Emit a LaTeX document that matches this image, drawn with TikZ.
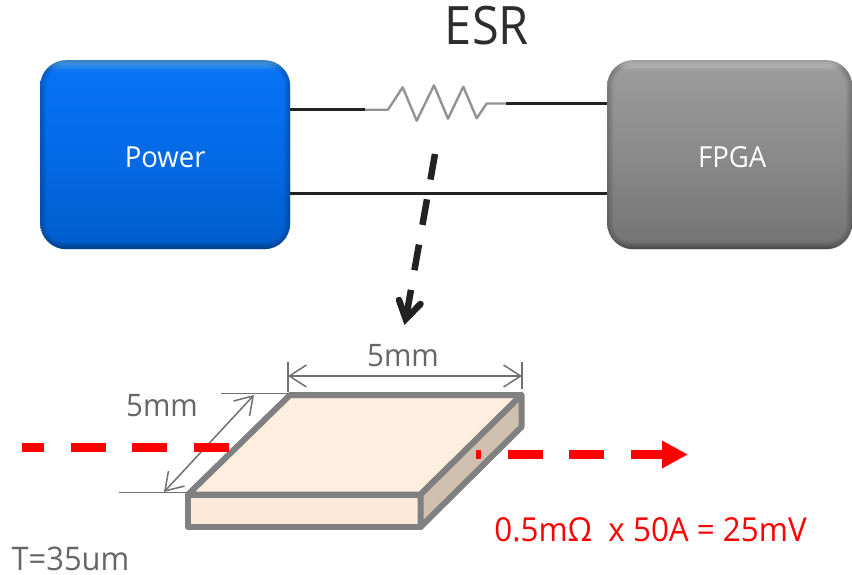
\documentclass[tikz,border=0pt]{standalone}
\usepackage{fontspec}
\setmainfont[FakeStretch=0.95]{Open Sans}
\newfontfamily\titlefont[FakeStretch=0.92]{Open Sans}
\usetikzlibrary{arrows.meta,calc}
\definecolor{pa}{HTML}{0A4F9E}\definecolor{pb}{HTML}{0058BE}\definecolor{pc}{HTML}{005FD0}\definecolor{pd}{HTML}{046AE6}
\definecolor{pe}{HTML}{0872F5}\definecolor{pf}{HTML}{0C76F5}\definecolor{pg}{HTML}{2A8CF2}\definecolor{ph}{HTML}{45A5F6}
\definecolor{fa}{HTML}{555555}\definecolor{fb}{HTML}{6A6A6A}\definecolor{fc}{HTML}{767676}\definecolor{fd}{HTML}{8A8A8A}
\definecolor{fe}{HTML}{9A9A9A}\definecolor{ff}{HTML}{9C9C9C}\definecolor{fg}{HTML}{B0B0B0}\definecolor{fh}{HTML}{C6C6C6}
\pgfdeclareverticalshading{powershade}{100bp}{
  color(0bp)=(pa); color(25bp)=(pa); color(26bp)=(pb); color(28bp)=(pc); color(50bp)=(pd);
  color(71.5bp)=(pe); color(72.5bp)=(pf); color(73.4bp)=(pg); color(74.4bp)=(ph); color(100bp)=(ph)}
\pgfdeclareverticalshading{fpgashade}{100bp}{
  color(0bp)=(fa); color(25bp)=(fa); color(26bp)=(fb); color(28bp)=(fc); color(50bp)=(fd);
  color(71.5bp)=(fe); color(72.5bp)=(ff); color(73.4bp)=(fg); color(74.4bp)=(fh); color(100bp)=(fh)}
\definecolor{wirec}{HTML}{222222}
\definecolor{dimc}{HTML}{707070}
\definecolor{platec}{HTML}{808080}
\definecolor{topc}{HTML}{FDEEDF}
\definecolor{frontc}{HTML}{FDE9D9}
\definecolor{sidec}{HTML}{CFBFAE}
\definecolor{labelc}{HTML}{666666}
\tikzset{
  x=1pt,y=-1pt,
  boxnode/.style={rounded corners=26pt,minimum width=250pt,minimum height=189pt,inner sep=0pt,text=white,font=\fontsize{29}{32}\selectfont,anchor=north west},
  bevel/.style={black,opacity=.07},
  wire/.style={draw=wirec,line width=3pt},
  reswire/.style={draw=gray!85,line width=2.4pt,line join=round},
  dimline/.style={draw=dimc,line width=1.5pt},
  dimarrow/.style={draw=dimc,line width=1.5pt,{Straight Barb[length=17pt,width=22pt]}-{Straight Barb[length=17pt,width=22pt]}},
  plate/.style={draw=platec,line width=6pt,line join=round},
  reddash/.style={draw=red,line width=9pt},
  lbl/.style={font=\fontsize{31}{34}\selectfont,text=labelc,inner sep=0pt},
}
\begin{document}
\begin{tikzpicture}
\useasboundingbox (0,0) rectangle (852,574);
\node[boxnode,shading=powershade] (power) at (40,60) {\raisebox{-12.5pt}[0pt][0pt]{Power}};
\node[boxnode,shading=fpgashade,minimum width=245pt] (fpga) at (607,60) {\hspace*{5pt}\raisebox{-12.5pt}[0pt][0pt]{FPGA}};
\foreach \b in {power,fpga}{
  \begin{scope}
    \clip[rounded corners=26pt] (\b.north west) rectangle (\b.south east);
    \draw[bevel,line width=4pt,rounded corners=26pt] (\b.north west) rectangle (\b.south east);
    \draw[bevel,line width=8pt,rounded corners=26pt] (\b.north west) rectangle (\b.south east);
    \draw[bevel,line width=12pt,rounded corners=26pt] (\b.north west) rectangle (\b.south east);
  \end{scope}
}
\coordinate (ra) at (365,109.7);
\coordinate (rb) at (506,103.5);
\coordinate (la) at (400,193.4);
\draw[wire] (ra -| power.east) -- (ra);
\draw[wire] (rb) -- (rb -| fpga.west);
\draw[wire] (la -| power.east) -- (la -| fpga.west);
\draw[reswire] (ra) -- (388,109.7) -- (402.7,87.3) -- (416.7,120.7) -- (434,85.3) -- (448,118.7) -- (463.3,86.7) -- (476.7,118.3) -- (486.7,103.5) -- (rb);
\node[inner sep=0pt,font=\titlefont\fontsize{53}{56}\selectfont,text=wirec!95] (esr) at (487,26) {ESR};
% dashed arrow
\coordinate (da) at (435,154);
\coordinate (ht) at (405.8,319);
\coordinate (hl) at (399,300);
\coordinate (hr) at (420.5,304);
\draw[draw=wirec,line width=6.5pt,dash pattern=on 26pt off 20pt] (da) -- (ht);
\draw[draw=wirec,line width=6.5pt,line cap=round,line join=miter,miter limit=10] (hl) -- (ht) -- (hr);
% plate
\coordinate (tl) at (290,395);
\coordinate (tr) at (521.5,395);
\coordinate (fl) at (188,494.5);
\coordinate (fr) at (420.5,494.5);
\coordinate (bl) at (188,527);
\coordinate (br) at (420.5,527);
\coordinate (sr) at (521.5,427);
\draw[plate,fill=topc] (tl) -- (tr) -- (fr) -- (fl) -- cycle;
\draw[plate,fill=frontc] (fl) -- (fr) -- (br) -- (bl) -- cycle;
\draw[plate,fill=sidec] (fr) -- (tr) -- (sr) -- (br) -- cycle;
% dimensions
\coordinate (h1a) at (288,362);
\coordinate (h1b) at (288,392);
\coordinate (h2a) at (522,362);
\coordinate (h2b) at (522,389);
\draw[dimline] (h1a) -- (h1b);
\draw[dimline] (h2a) -- (h2b);
\coordinate (hc1) at (288,376);
\coordinate (hc2) at (522,376);
\draw[dimarrow] (hc1) -- (hc2);
\coordinate (e1a) at (220.7,393.3);
\coordinate (e1b) at (288,393.3);
\coordinate (e2a) at (119,492.7);
\coordinate (e2b) at (186.7,492.7);
\draw[dimline] (e1a) -- (e1b);
\draw[dimline] (e2a) -- (e2b);
\coordinate (d1) at (254,395);
\coordinate (d2) at (164,492);
\draw[dimarrow] (d2) -- (d1);
\node[lbl] (w5) at (403,356) {5mm};
\node[lbl] (l5) at (162,406) {5mm};
\node[lbl,font=\fontsize{32.5}{34}\selectfont] (t35) at (70.5,559) {T=35um};
\node[inner sep=0pt,font=\fontsize{33}{35}\selectfont,text=red] (eq) at (650.5,529.5) {0.5mΩ~~x 50A = 25mV};
% red arrows
\coordinate (r1) at (22,447.5);
\coordinate (r2) at (229,447.5);
\coordinate (r3) at (476,454.5);
\coordinate (r4) at (688,454.5);
\draw[reddash,dash pattern=on 35pt off 26.5pt,dash phase=13pt] (r1) -- (r2);
\draw[reddash,dash pattern=on 35pt off 26.5pt,dash phase=30pt,-{Triangle[length=26pt,width=26pt]}] (r3) -- (r4);
\end{tikzpicture}
\end{document}
